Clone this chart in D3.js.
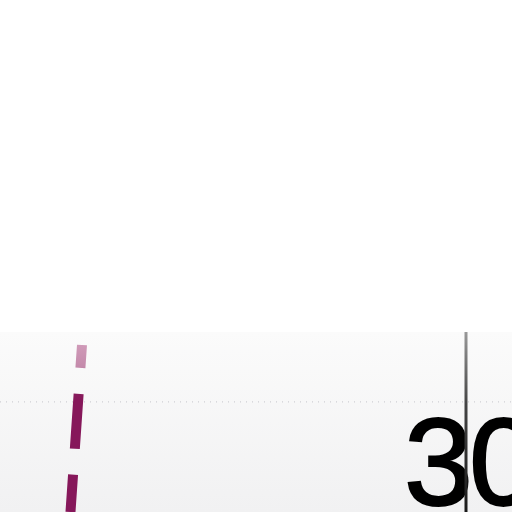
<!DOCTYPE html>
<html>
<head>
<meta charset="utf-8">
<script src="https://cdn.jsdelivr.net/npm/d3@7"></script>
<style>
  html, body { margin: 0; padding: 0; background: #fff; }
</style>
</head>
<body>
<div id="chart"></div>
<script>
// x ticks shown in this view
const xTicks = [30];
// dashed reference line: x value at each y step
const refSteps = [0, 1];
const refValues = [20.0, 19.7];
// horizontal grid values
const yGrid = [0.34];

const width = 512;
const height = 512;
const plotTop = 332;

const svg = d3.select('#chart')
  .append('svg')
  .attr('width', width)
  .attr('height', height);

const x = d3.scaleLinear().domain([20, 30]).range([82, 466]);
const y = d3.scaleLinear().domain([0, 1]).range([345, 512]);

const defs = svg.append('defs');

const bg = defs.append('linearGradient')
  .attr('id', 'bg')
  .attr('x1', 0).attr('y1', 0).attr('x2', 0).attr('y2', 1);
bg.append('stop').attr('offset', '0%').attr('stop-color', '#fbfbfb');
bg.append('stop').attr('offset', '100%').attr('stop-color', '#f1f1f2');

const refGrad = defs.append('linearGradient')
  .attr('id', 'refGrad')
  .attr('gradientUnits', 'userSpaceOnUse')
  .attr('x1', 0).attr('y1', 345).attr('x2', 0).attr('y2', 400);
refGrad.append('stop').attr('offset', '0%').attr('stop-color', '#cf9ab8');
refGrad.append('stop').attr('offset', '40%').attr('stop-color', '#c48aab');
refGrad.append('stop').attr('offset', '75%').attr('stop-color', '#8a2160');
refGrad.append('stop').attr('offset', '100%').attr('stop-color', '#86175a');

const axisGrad = defs.append('linearGradient')
  .attr('id', 'axisGrad')
  .attr('gradientUnits', 'userSpaceOnUse')
  .attr('x1', 0).attr('y1', plotTop).attr('x2', 0).attr('y2', 512);
axisGrad.append('stop').attr('offset', '0%').attr('stop-color', '#999');
axisGrad.append('stop').attr('offset', '40%').attr('stop-color', '#444');
axisGrad.append('stop').attr('offset', '100%').attr('stop-color', '#1a1a1a');

// plot background
svg.append('rect')
  .attr('x', 0)
  .attr('y', plotTop)
  .attr('width', width)
  .attr('height', height - plotTop)
  .attr('fill', 'url(#bg)');

// dotted grid
svg.selectAll('.grid')
  .data(yGrid)
  .enter()
  .append('line')
  .attr('class', 'grid')
  .attr('x1', 0)
  .attr('x2', width)
  .attr('y1', (d) => y(d))
  .attr('y2', (d) => y(d))
  .attr('stroke', '#d0d0d4')
  .attr('stroke-width', 1.2)
  .attr('stroke-dasharray', '1 5');

// dashed reference line
const line = d3.line()
  .x((d, i) => x(refValues[i]))
  .y((d) => y(d));

svg.append('path')
  .datum(refSteps)
  .attr('d', line)
  .attr('fill', 'none')
  .attr('stroke', 'url(#refGrad)')
  .attr('stroke-width', 10)
  .attr('stroke-dasharray', '55 26')
  .attr('stroke-dashoffset', 32);

// tick labels
svg.selectAll('.tick-label')
  .data(xTicks)
  .enter()
  .append('text')
  .attr('class', 'tick-label')
  .attr('x', (d) => x(d) + 3)
  .attr('y', 505)
  .attr('text-anchor', 'middle')
  .attr('font-family', 'Liberation Sans, Arial, sans-serif')
  .attr('font-size', 124)
  .attr('letter-spacing', -4)
  .attr('fill', '#000')
  .attr('stroke', '#000')
  .attr('stroke-width', 2)
  .text((d) => d);

// tick lines
svg.selectAll('.tick-line')
  .data(xTicks)
  .enter()
  .append('line')
  .attr('class', 'tick-line')
  .attr('x1', (d) => x(d))
  .attr('x2', (d) => x(d))
  .attr('y1', plotTop)
  .attr('y2', height)
  .attr('stroke', 'url(#axisGrad)')
  .attr('stroke-width', 3);
</script>
</body>
</html>
